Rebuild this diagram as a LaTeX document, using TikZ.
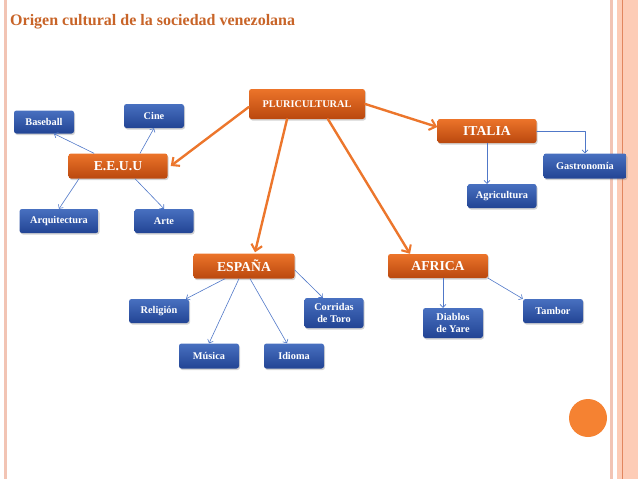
\documentclass[tikz,border=0pt]{standalone}
\usepackage{fontspec}
\setmainfont{Liberation Serif}
\usetikzlibrary{arrows.meta,shadows}
\definecolor{titulo}{RGB}{200,100,40}
\definecolor{naranjaA}{RGB}{236,116,42}
\definecolor{naranjaB}{RGB}{186,72,14}
\definecolor{azulA}{RGB}{72,112,192}
\definecolor{azulB}{RGB}{34,68,148}
\definecolor{flechaN}{RGB}{236,118,44}
\definecolor{flechaA}{RGB}{80,120,200}
\definecolor{franja}{RGB}{242,196,180}
\definecolor{franjaB}{RGB}{253,204,182}
\definecolor{franjaC}{RGB}{226,134,94}
\definecolor{bola}{RGB}{245,130,50}
\tikzset{
  caja/.style={rounded corners=2.5pt, inner sep=0pt, align=center, text=white,
    font=\bfseries, drop shadow={opacity=0.35, shadow xshift=1pt, shadow yshift=-1.5pt}},
  cajaN/.style={caja, top color=naranjaA, bottom color=naranjaB},
  cajaA/.style={caja, top color=azulA, bottom color=azulB, font=\bfseries\fontsize{10.3}{11.5}\selectfont},
  flechaG/.style={draw=flechaN, line width=2.4pt, -{Straight Barb[length=6pt,width=11pt,line width=2.1pt]}},
  flechaP/.style={draw=flechaA, line width=0.6pt, -{Straight Barb[length=3pt,width=6pt]}}
}
\begin{document}
\begin{tikzpicture}[x=1pt, y=-1pt, line join=round, line cap=round]
  \useasboundingbox (0,0) rectangle (638,479);
  % franjas del fondo
  \fill[franja] (4,0) rectangle (7,479);
  \fill[franja] (610,0) rectangle (613,479);
  \fill[franjaB] (617,0) rectangle (638,479);
  \draw[franjaC, line width=1.2pt] (622.5,0) -- (622.5,479);
  \fill[bola] (588,418) circle (19);
  \node[anchor=west, inner sep=0pt, text=titulo, font=\bfseries\fontsize{16}{18}\selectfont] (titulo) at (10,22) {Origen cultural de la sociedad venezolana};
  % cajas naranjas
  \node[cajaN, minimum width=116pt, minimum height=30pt, font=\bfseries\fontsize{10.3}{12}\selectfont] (pluri) at (307,104) {PLURICULTURAL};
  \node[cajaN, minimum width=99pt, minimum height=25pt, font=\bfseries\fontsize{13.7}{15}\selectfont] (eeuu) at (118,166) {E.E.U.U};
  \node[cajaN, minimum width=99pt, minimum height=24pt, font=\bfseries\fontsize{13.7}{15}\selectfont] (italia) at (487,131) {ITALIA};
  \node[cajaN, minimum width=101pt, minimum height=25pt, font=\bfseries\fontsize{13.7}{15}\selectfont] (espana) at (244,266) {ESPAÑA};
  \node[cajaN, minimum width=100pt, minimum height=24pt, font=\bfseries\fontsize{13.7}{15}\selectfont] (africa) at (438,266) {AFRICA};
  % cajas azules
  \node[cajaA, minimum width=60pt, minimum height=23pt] (baseball) at (44,122) {Baseball};
  \node[cajaA, minimum width=60pt, minimum height=24pt] (cine) at (154,116) {Cine};
  \node[cajaA, minimum width=79pt, minimum height=24pt] (arqui) at (59,221) {Arquitectura};
  \node[cajaA, minimum width=59pt, minimum height=24pt] (arte) at (164,221) {Arte};
  \node[cajaA, minimum width=83pt, minimum height=25pt] (gastro) at (585,166) {Gastronomía};
  \node[cajaA, minimum width=69pt, minimum height=24pt] (agri) at (502,196) {Agricultura};
  \node[cajaA, minimum width=60pt, minimum height=24pt] (religion) at (159,311) {Religión};
  \node[cajaA, minimum width=59pt, minimum height=30pt] (corridas) at (334,313) {Corridas\\de Toro};
  \node[cajaA, minimum width=60pt, minimum height=25pt] (musica) at (209,356) {Música};
  \node[cajaA, minimum width=60pt, minimum height=25pt] (idioma) at (294,356) {Idioma};
  \node[cajaA, minimum width=60pt, minimum height=30pt] (diablos) at (453,323) {Diablos\\de Yare};
  \node[cajaA, minimum width=60pt, minimum height=24pt] (tambor) at (553,311) {Tambor};
  % flechas naranjas
  \draw[flechaG] ([yshift=-3pt]pluri.west) -- ([xshift=3pt]eeuu.east);
  \draw[flechaG] (pluri.east) -- ([yshift=4pt]italia.west);
  \draw[flechaG] ([xshift=-20pt]pluri.south) -- ([xshift=11pt, yshift=1pt]espana.north);
  \draw[flechaG] ([xshift=21pt]pluri.south) -- ([xshift=-28pt]africa.north);
  % flechas azules
  \draw[flechaP] ([xshift=-24pt]eeuu.north) -- ([xshift=10pt]baseball.south);
  \draw[flechaP] ([xshift=22pt]eeuu.north) -- (cine.south);
  \draw[flechaP] ([xshift=-39pt]eeuu.south) -- (arqui.north);
  \draw[flechaP] ([xshift=17pt]eeuu.south) -- (arte.north);
  \draw[flechaP] (italia.south) -- (italia.south |- agri.north);
  \draw[flechaP] (italia.east) -| (gastro.north);
  \draw[flechaP] ([xshift=-19pt]espana.south) -- ([xshift=27pt]religion.north);
  \draw[flechaP] ([xshift=-5pt]espana.south) -- (musica.north);
  \draw[flechaP] ([xshift=6pt]espana.south) -- ([xshift=-7pt]idioma.north);
  \draw[flechaP] ([yshift=-4pt]espana.east) -- ([xshift=-11pt]corridas.north);
  \draw[flechaP] ([xshift=5pt]africa.south) -- ([xshift=-10pt]diablos.north);
  \draw[flechaP] (africa.south east) -- (tambor.north west);
\end{tikzpicture}
\end{document}
